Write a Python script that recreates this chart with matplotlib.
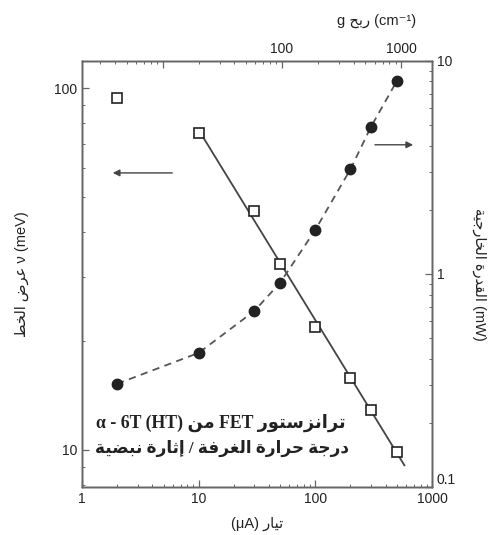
import numpy as np
import matplotlib
matplotlib.use("Agg")
import matplotlib.pyplot as plt

# ==============================
# Data
# ==============================

current_sq = [2, 10, 30, 50, 100, 200, 300, 500]          # uA
linewidth = [94, 75, 45.7, 32.7, 21.9, 15.8, 12.9, 9.9]    # meV

current_ci = [2, 10, 30, 50, 100, 200, 300, 500]           # uA
power = [0.305, 0.426, 0.67, 0.91, 1.61, 3.1, 4.9, 8.05]   # mW

fit_range = [10, 580]

bottom_ticks = [1, 10, 100, 1000]
top_ticks = [10, 100, 1000]
top_tick_labels = ["", "100", "1000"]

# ==============================
# Arabic shaping (presentation forms, visual order)
# ==============================

FORMS = {
    "ا": (0xFE8D, False), "إ": (0xFE87, False), "ب": (0xFE8F, True),
    "ة": (0xFE93, False), "ت": (0xFE95, True), "ث": (0xFE99, True),
    "ج": (0xFE9D, True), "ح": (0xFEA1, True), "خ": (0xFEA5, True),
    "د": (0xFEA9, False), "ر": (0xFEAD, False), "ز": (0xFEAF, False),
    "س": (0xFEB1, True), "ض": (0xFEBD, True), "ط": (0xFEC1, True),
    "ع": (0xFEC9, True), "غ": (0xFECD, True), "ف": (0xFED1, True),
    "ق": (0xFED5, True), "ل": (0xFEDD, True), "م": (0xFEE1, True),
    "ن": (0xFEE5, True), "و": (0xFEED, False), "ي": (0xFEF1, True),
}


def ar(text):
    out = []
    for i, c in enumerate(text):
        if c not in FORMS:
            out.append(c)
            continue
        base, dual = FORMS[c]
        prev = text[i - 1] if i > 0 else ""
        nxt = text[i + 1] if i + 1 < len(text) else ""
        jp = prev in FORMS and FORMS[prev][1]
        jn = dual and nxt in FORMS
        k = 3 if (jp and jn) else 1 if jp else 2 if jn else 0
        out.append(chr(base + k))
    return "".join(reversed(out))


plt.rcParams["font.family"] = ["Liberation Sans", "DejaVu Sans"]

ink = "#222222"
frame = "#666666"

fig = plt.figure(figsize=(5, 5.35), dpi=100)
ax = fig.add_axes([0.164, 0.0897, 0.70, 0.7966])

# ==============================
# Linewidth (left axis)
# ==============================

ax.plot(current_sq, linewidth, "s", ms=7.5, mfc="white", mec=ink, mew=1.2,
        linestyle="none", zorder=4)

lx = np.log10(current_sq[1:])
ly = np.log10(linewidth[1:])
slope, icpt = np.polyfit(lx, ly, 1)
fx = np.array(fit_range, dtype=float)
ax.plot(fx, 10 ** (icpt + slope * np.log10(fx)), color="#444444", lw=1.3,
        zorder=3)

ax.set_xscale("log")
ax.set_yscale("log")
ax.set_xlim(1, 1000)
ax.set_ylim(7.9, 119)
ax.set_xticks(bottom_ticks, [str(t) for t in bottom_ticks])
ax.set_yticks([10, 100], ["10", "100"])

ax.set_xlabel("(μA) " + ar("تيار"), fontsize=10.5, color=ink, labelpad=8)
ax.set_ylabel(ar("عرض الخط") + " ν (meV)", fontsize=10.5, color=ink,
              labelpad=18)

# ==============================
# Output power (right axis)
# ==============================

ax2 = ax.twinx()
ax2.plot(current_ci, power, "o", ms=7.5, color="#222222", linestyle="none",
         zorder=4)
ax2.plot(current_ci, power, color="#555555", lw=1.3, dashes=(4, 3), zorder=3)
ax2.set_yscale("log")
ax2.set_ylim(0.1, 10)
ax2.set_yticks([0.1, 1, 10], ["0.1", "1", "10"])
ax2.get_yticklabels()[0].set_verticalalignment("bottom")
ax2.set_ylabel(ar("القدرة الخارجية") + " (mW)", fontsize=10.5, color=ink,
               rotation=270, labelpad=22)

# ==============================
# Gain (top axis)
# ==============================

ax3 = ax.twiny()
ax3.set_xscale("log")
ax3.set_xlim(2.1, 1820)
ax3.set_xticks(top_ticks, top_tick_labels)
ax3.set_xlabel("g " + ar("ربح") + " (cm⁻¹)", fontsize=10.5, color=ink)
ax3.xaxis.set_label_coords(0.843, 1.085)

for a in (ax, ax2, ax3):
    for s in a.spines.values():
        s.set_color(frame)
        s.set_linewidth(1.0)
    a.tick_params(which="major", direction="in", length=5, width=0.9,
                  colors=frame, labelcolor=ink, labelsize=10)
    a.tick_params(which="minor", direction="in", length=2.5, width=0.7,
                  colors=frame)

# ==============================
# Arrows and note
# ==============================

ax.annotate("", xy=(0.08, 0.737), xytext=(0.266, 0.737),
            xycoords="axes fraction",
            arrowprops=dict(arrowstyle="-|>", color="#444444", lw=1.0,
                            mutation_scale=10))
ax.annotate("", xy=(0.954, 0.803), xytext=(0.829, 0.803),
            xycoords="axes fraction",
            arrowprops=dict(arrowstyle="-|>", color="#444444", lw=1.0,
                            mutation_scale=10))

note_font = ["Liberation Serif", "DejaVu Sans"]
ax.text(0.397, 0.150, "α - 6T (HT) " + ar("من") + " FET " + ar("ترانزستور"),
        transform=ax.transAxes, ha="center", va="center", fontsize=12.8,
        fontweight="bold", family=note_font, color=ink)
ax.text(0.400, 0.090, ar("درجة حرارة الغرفة / إثارة نبضية"),
        transform=ax.transAxes, ha="center", va="center", fontsize=12.2,
        fontweight="bold", family=note_font, color=ink)

fig.savefig("out.png", dpi=100)
